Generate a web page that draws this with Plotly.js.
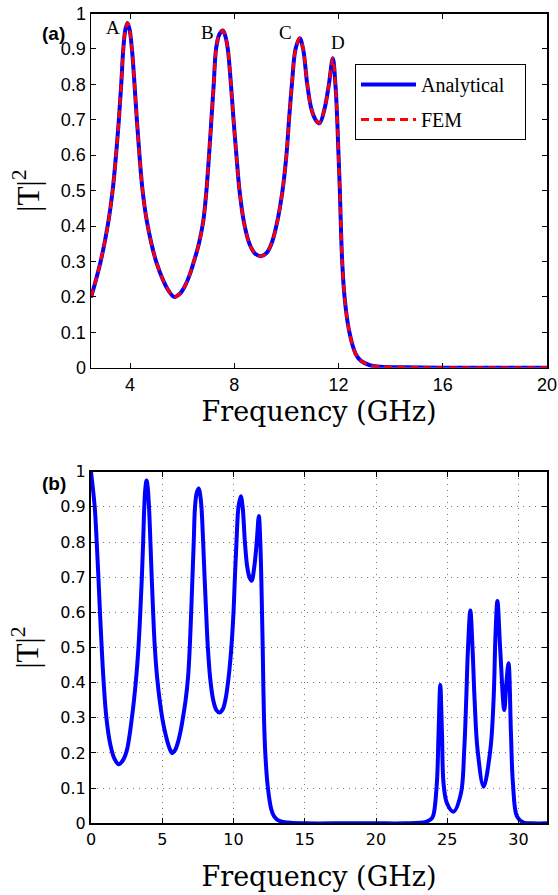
<!DOCTYPE html>
<html>
<head>
<meta charset="utf-8">
<script src="https://cdn.plot.ly/plotly-3.0.1.min.js"></script>
<style>html,body{margin:0;padding:0;background:#fff;}#chart{width:558px;height:895px;}</style>
</head>
<body>
<div id="chart"></div>
<script>
// ---- Panel (a): 2.5–20 GHz, analytical vs FEM ----
const freqA = [2.5, 2.87, 3.15, 3.33, 3.46, 3.57, 3.66, 3.74, 3.82, 3.90, 3.98, 4.07, 4.17, 4.26, 4.36, 4.48, 4.64, 4.82, 5.02, 5.25, 5.47, 5.69, 5.90, 6.10, 6.30, 6.45, 6.64, 6.81, 6.93, 7.03, 7.12, 7.21, 7.30, 7.42, 7.56, 7.66, 7.75, 7.87, 7.97, 8.08, 8.20, 8.37, 8.58, 8.80, 9.03, 9.25, 9.45, 9.67, 9.85, 10.00, 10.10, 10.21, 10.35, 10.51, 10.64, 10.80, 10.96, 11.12, 11.27, 11.46, 11.63, 11.78, 11.88, 11.95, 12.00, 12.05, 12.09, 12.14, 12.23, 12.40, 12.65, 12.85, 13.2, 13.6, 14.5, 16, 18, 20];
const analyticalA = [0.198, 0.30, 0.405, 0.50, 0.60, 0.70, 0.80, 0.90, 0.955, 0.973, 0.955, 0.90, 0.80, 0.70, 0.60, 0.50, 0.415, 0.35, 0.295, 0.25, 0.218, 0.20, 0.208, 0.23, 0.265, 0.30, 0.35, 0.415, 0.50, 0.60, 0.70, 0.80, 0.90, 0.94, 0.952, 0.935, 0.90, 0.80, 0.70, 0.60, 0.50, 0.41, 0.35, 0.322, 0.315, 0.325, 0.355, 0.42, 0.50, 0.60, 0.70, 0.80, 0.90, 0.93, 0.90, 0.80, 0.73, 0.70, 0.69, 0.73, 0.80, 0.874, 0.80, 0.70, 0.60, 0.50, 0.40, 0.30, 0.20, 0.106, 0.04, 0.02, 0.007, 0.003, 0.001, 0, 0, 0];
const femA = [0.198, 0.30, 0.405, 0.50, 0.60, 0.70, 0.80, 0.90, 0.955, 0.973, 0.955, 0.90, 0.80, 0.70, 0.60, 0.50, 0.415, 0.35, 0.295, 0.25, 0.218, 0.20, 0.208, 0.23, 0.265, 0.30, 0.35, 0.415, 0.50, 0.60, 0.70, 0.80, 0.90, 0.94, 0.952, 0.935, 0.90, 0.80, 0.70, 0.60, 0.50, 0.41, 0.35, 0.322, 0.315, 0.325, 0.355, 0.42, 0.50, 0.60, 0.70, 0.80, 0.90, 0.93, 0.90, 0.80, 0.73, 0.70, 0.69, 0.73, 0.80, 0.874, 0.80, 0.70, 0.60, 0.50, 0.40, 0.30, 0.20, 0.106, 0.04, 0.02, 0.007, 0.003, 0.001, 0, 0, 0];
const peakLabels = ["A", "B", "C", "D"];
const peakLabelX = [3.35, 6.96, 9.96, 11.96];
const peakLabelY = [0.96, 0.945, 0.945, 0.917];
const xTicksA = [4, 8, 12, 16, 20];

// ---- Panel (b): 0–32 GHz, analytical ----
const freqB = [0, 0.26, 0.40, 0.52, 0.63, 0.75, 0.89, 1.08, 1.35, 1.65, 1.94, 2.22, 2.5, 2.87, 3.15, 3.33, 3.46, 3.57, 3.66, 3.74, 3.82, 3.90, 3.98, 4.07, 4.17, 4.26, 4.36, 4.48, 4.64, 4.82, 5.02, 5.25, 5.47, 5.69, 5.90, 6.10, 6.30, 6.45, 6.64, 6.81, 6.93, 7.03, 7.12, 7.21, 7.30, 7.42, 7.56, 7.66, 7.75, 7.87, 7.97, 8.08, 8.20, 8.37, 8.58, 8.80, 9.03, 9.25, 9.45, 9.67, 9.85, 10.00, 10.10, 10.21, 10.35, 10.51, 10.64, 10.80, 10.96, 11.12, 11.27, 11.46, 11.63, 11.78, 11.88, 11.95, 12.00, 12.05, 12.09, 12.14, 12.23, 12.40, 12.65, 12.85, 13.2, 13.8, 15, 18, 20, 22, 23.5, 23.9, 24.04, 24.27, 24.39, 24.51, 24.63, 24.74, 24.98, 25.44, 25.96, 26.19, 26.33, 26.45, 26.62, 26.78, 26.92, 27.13, 27.55, 28.02, 28.25, 28.39, 28.52, 28.72, 29.0, 29.15, 29.3, 29.47, 29.61, 29.9, 30.36, 31, 32];
const analyticalB = [1.0, 0.90, 0.80, 0.70, 0.60, 0.50, 0.40, 0.30, 0.225, 0.183, 0.168, 0.178, 0.205, 0.30, 0.405, 0.50, 0.60, 0.70, 0.80, 0.90, 0.955, 0.975, 0.955, 0.90, 0.80, 0.70, 0.60, 0.50, 0.415, 0.35, 0.295, 0.25, 0.218, 0.20, 0.208, 0.23, 0.265, 0.30, 0.35, 0.415, 0.50, 0.60, 0.70, 0.80, 0.90, 0.94, 0.952, 0.935, 0.90, 0.80, 0.70, 0.60, 0.50, 0.41, 0.35, 0.322, 0.315, 0.325, 0.355, 0.42, 0.50, 0.60, 0.70, 0.80, 0.90, 0.93, 0.90, 0.80, 0.73, 0.70, 0.69, 0.73, 0.80, 0.874, 0.80, 0.70, 0.60, 0.50, 0.40, 0.30, 0.20, 0.106, 0.04, 0.02, 0.007, 0.002, 0, 0, 0, 0, 0.004, 0.013, 0.025, 0.114, 0.256, 0.393, 0.256, 0.114, 0.057, 0.033, 0.085, 0.208, 0.35, 0.492, 0.605, 0.492, 0.35, 0.208, 0.104, 0.208, 0.35, 0.54, 0.632, 0.492, 0.322, 0.40, 0.455, 0.256, 0.114, 0.019, 0.002, 0, 0];
const xTicksB = [0, 5, 10, 15, 20, 25, 30];
const yTicks = [0, 0.1, 0.2, 0.3, 0.4, 0.5, 0.6, 0.7, 0.8, 0.9, 1];
const yTickText = ["0", "0.1", "0.2", "0.3", "0.4", "0.5", "0.6", "0.7", "0.8", "0.9", "1"];

const W = 558, H = 895;
const serif = "Liberation Serif, Times New Roman, serif";

const traces = [
  {x: freqA, y: analyticalA, name: "Analytical\u00a0\u00a0\u00a0", legendgroup: "g1", type: "scatter", mode: "lines",
   line: {color: "#0000ff", width: 4, shape: "spline", smoothing: 1}, xaxis: "x", yaxis: "y"},
  {x: freqA, y: femA, name: "FEM", legendgroup: "g2", type: "scatter", mode: "lines",
   line: {color: "#ff0000", width: 3, dash: "8px,5px", shape: "spline", smoothing: 1}, xaxis: "x", yaxis: "y"},
  {x: freqB, y: analyticalB, name: "Analytical (b)", showlegend: false, type: "scatter", mode: "lines",
   line: {color: "#0000ff", width: 4, shape: "spline", smoothing: 1}, xaxis: "x2", yaxis: "y2"}
];

const axBase = {
  showline: true, linecolor: "black", linewidth: 1.5, mirror: "allticks",
  ticks: "inside", ticklen: 5, tickcolor: "black", tickwidth: 1, zeroline: false
};

const annotations = peakLabels.map((t, i) => ({
  text: t, x: peakLabelX[i], y: peakLabelY[i], xref: "x", yref: "y",
  showarrow: false, font: {family: serif, size: 19, color: "black"}
}));
annotations.push({text: "<b>(a)</b>", x: 40 / W, y: 1 - 21 / H, xref: "paper", yref: "paper",
  showarrow: false, font: {family: "Liberation Sans, Arial, sans-serif", size: 19, color: "black"}});
annotations.push({text: "<b>(b)</b>", x: 40 / W, y: 1 - 483 / H, xref: "paper", yref: "paper",
  showarrow: false, font: {family: "Liberation Sans, Arial, sans-serif", size: 19, color: "black"}});

const layout = {
  width: W, height: H,
  margin: {l: 0, r: 0, t: 0, b: 0},
  paper_bgcolor: "white", plot_bgcolor: "white",
  showlegend: true,
  legend: {x: 355 / W, y: 1 - 64 / H, xanchor: "left", yanchor: "top",
    bordercolor: "black", borderwidth: 1, bgcolor: "white", itemwidth: 55, tracegroupgap: 6,
    font: {family: serif, size: 20, color: "black"}},
  xaxis: Object.assign({}, axBase, {
    domain: [91 / W, 547 / W], anchor: "y", range: [2.5, 20],
    tickvals: xTicksA, showgrid: false,
    tickfont: {family: "Liberation Sans, Arial, sans-serif", size: 18, color: "black"},
    title: {text: "Frequency (GHz)", font: {family: "DejaVu Serif, serif", size: 27, color: "black"}, standoff: 8}
  }),
  yaxis: Object.assign({}, axBase, {
    domain: [1 - 367.7 / H, 1 - 13.5 / H], anchor: "x", range: [0, 1],
    tickvals: yTicks, ticktext: yTickText, showgrid: false,
    tickfont: {family: "Liberation Sans, Arial, sans-serif", size: 18, color: "black"},
    title: {text: "|T|<sup>2</sup>", font: {family: serif, size: 31, color: "black"}, standoff: 12}
  }),
  xaxis2: Object.assign({}, axBase, {
    domain: [91 / W, 547 / W], anchor: "y2", range: [0, 32], linewidth: 2,
    tickvals: xTicksB, showgrid: true, gridcolor: "#777777", griddash: "1px,5px", gridwidth: 1,
    tickfont: {family: "DejaVu Sans, sans-serif", size: 16, color: "black"},
    title: {text: "Frequency (GHz)", font: {family: "DejaVu Serif, serif", size: 27, color: "black"}, standoff: 20}
  }),
  yaxis2: Object.assign({}, axBase, {
    domain: [1 - 823.3 / H, 1 - 471.7 / H], anchor: "x2", range: [0, 1], linewidth: 2,
    tickvals: yTicks, ticktext: yTickText, showgrid: true, gridcolor: "#777777", griddash: "1px,5px", gridwidth: 1,
    tickfont: {family: "DejaVu Sans, sans-serif", size: 16, color: "black"},
    title: {text: "|T|<sup>2</sup>", font: {family: serif, size: 31, color: "black"}, standoff: 12}
  }),
  annotations: annotations
};

Plotly.newPlot("chart", traces, layout, {staticPlot: true, displayModeBar: false});
</script>
</body>
</html>
